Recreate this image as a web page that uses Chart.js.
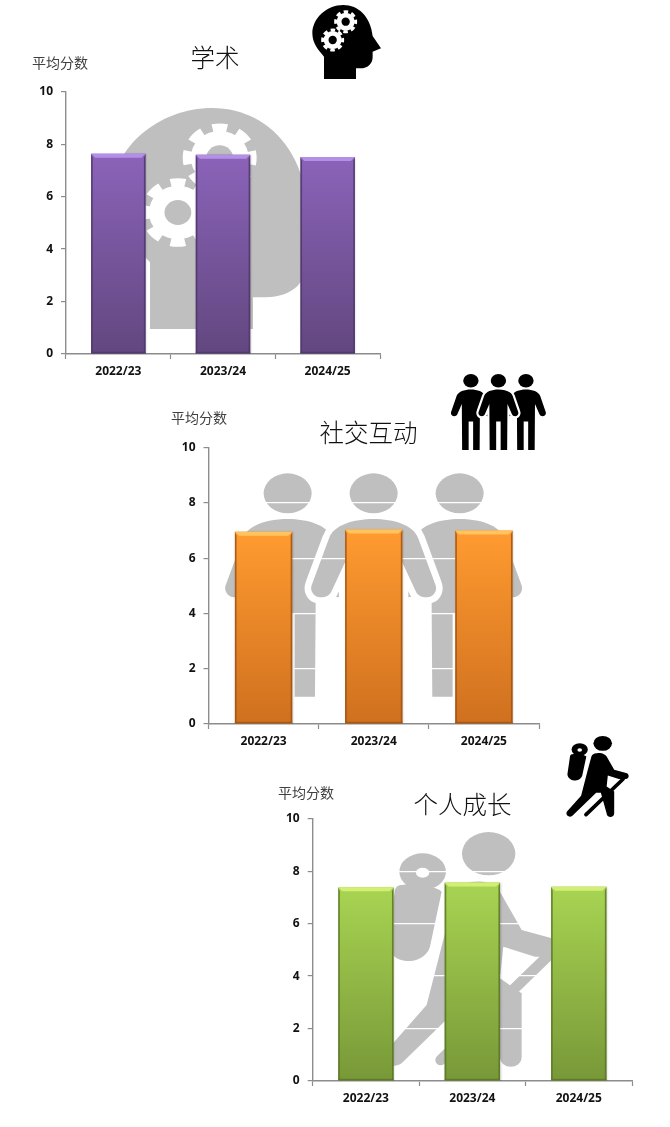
<!DOCTYPE html>
<html lang="zh">
<head>
<meta charset="utf-8">
<script src="https://cdn.jsdelivr.net/npm/chart.js@4"></script>
<style>
html,body{margin:0;padding:0;background:#fff;width:670px;height:1127px;overflow:hidden}
#art{position:absolute;left:0;top:0;z-index:0}
canvas{position:absolute;z-index:1}
</style>
</head>
<body>
<svg id="art" width="670" height="1127" viewBox="0 0 670 1127" xmlns="http://www.w3.org/2000/svg">
<defs>
<symbol id="head" viewBox="936 14 208 223" preserveAspectRatio="none">
  <path fill="currentColor" d="M972 237L1068 237L1068 205L1080 205C1105 205 1118 190 1118 170L1118 155L1143 145L1118 108C1112 50 1075 15 1030 15C980 15 937 55 937 100C937 130 955 150 972 170Z"/>
  <g>
    <circle cx="1037" cy="65" r="27" fill="#fff"/>
    <circle cx="1037" cy="65" r="30" fill="none" stroke="#fff" stroke-width="9" pathLength="16" stroke-dasharray="1.15 .85" stroke-dashoffset="0.57"/>
    <circle cx="1037" cy="65" r="12.5" fill="currentColor"/>
  </g>
  <g>
    <circle cx="998" cy="120" r="27" fill="#fff"/>
    <circle cx="998" cy="120" r="30" fill="none" stroke="#fff" stroke-width="9" pathLength="16" stroke-dasharray="1.15 .85" stroke-dashoffset="0.57"/>
    <circle cx="998" cy="120" r="12.5" fill="currentColor"/>
  </g>
</symbol>
<g id="man">
  <ellipse cx="0" cy="385" rx="72" ry="60"/>
  <path d="M-82 995L-21 995L-21 745L21 745L21 995L82 995L85 590L127 680C135 700 175 705 185 680C190 670 186 660 184 655L134 520C120 480 60 462 0 462C-60 462 -120 480 -134 520L-184 655C-186 660 -190 670 -185 680C-175 705 -135 700 -127 680L-85 590Z"/>
</g>
<symbol id="group" viewBox="190 320 900 680" preserveAspectRatio="none">
  <g fill="currentColor">
    <use href="#man" transform="translate(383 0)"/>
    <use href="#man" transform="translate(899 0)"/>
  </g>
  <g transform="translate(641 0)">
    <path fill="currentColor" stroke="#fff" stroke-width="40" stroke-linejoin="round" paint-order="stroke" d="M-82 995L-21 995L-21 745L21 745L21 995L82 995L85 590L127 680C135 700 175 705 185 680C190 670 186 660 184 655L134 520C120 480 60 462 0 462C-60 462 -120 480 -134 520L-184 655C-186 660 -190 670 -185 680C-175 705 -135 700 -127 680L-85 590Z"/>
    <ellipse cx="0" cy="385" rx="72" ry="60" fill="currentColor"/>
  </g>
</symbol>
<symbol id="hiker" viewBox="340 300 545 720" preserveAspectRatio="none">
  <ellipse cx="656" cy="371" rx="80" ry="65" fill="currentColor"/>
  <ellipse cx="458" cy="425" rx="70" ry="55" fill="currentColor"/>
  <ellipse cx="458" cy="428" rx="20" ry="15" fill="#fff"/>
  <path fill="currentColor" d="M395 465C440 460 500 470 515 485L480 650C470 685 430 695 410 693C380 693 355 670 352 640L375 480C378 470 385 465 395 465Z"/>
  <path fill="currentColor" d="M620 455C650 450 680 470 690 485L755 600L865 630C885 640 885 670 860 680L795 680L700 650L690 745L755 790L755 980C755 1020 690 1020 690 980L640 800L600 800L395 1000C375 1015 345 1005 345 985C340 970 350 960 360 950L470 825L525 610L560 480C570 460 600 455 620 455Z"/>
  <path fill="none" stroke="currentColor" stroke-width="32" stroke-linecap="round" d="M832 680L512 990"/>
</symbol>
</defs>
<use href="#head" x="111.4" y="107" width="223" height="222" style="color:#bfbfbf"/>
<use href="#head" x="312" y="4.7" width="69.3" height="74.3" style="color:#000"/>
<use href="#group" x="223.3" y="471.7" width="300" height="226.7" style="color:#bfbfbf"/>
<use href="#group" x="450.3" y="373.4" width="96" height="77.1" style="color:#000"/>
<use href="#hiker" x="383.3" y="830" width="181.7" height="240" style="color:#bfbfbf"/>
<use href="#hiker" x="566" y="735.2" width="63.3" height="82.9" style="color:#000"/>
</svg>

<canvas id="c1"></canvas>
<canvas id="c2"></canvas>
<canvas id="c3"></canvas>

<script>
const categories = ['2022/23', '2023/24', '2024/25'];
const academicScores = [7.63, 7.60, 7.51];
const socialScores = [6.95, 7.03, 7.00];
const growthScores = [7.39, 7.57, 7.41];
const yAxisLabel = '平均分数';
const titles = ['学术', '社交互动', '个人成长'];

const purple = {top:'#8b63b9', bottom:'#62477f', light:'#b48fe6', edge:'#4e3768'};
const orange = {top:'#ff9b30', bottom:'#cf701f', light:'#ffc45e', edge:'#9c5414'};
const green  = {top:'#a8d452', bottom:'#789838', light:'#d2ef74', edge:'#5a7428'};

const bevel = {
  id: 'bevel',
  beforeDatasetsDraw(chart) {
    const c = chart.ctx;
    c.save();
    c.shadowColor = 'rgba(0,0,0,0.2)';
    c.shadowBlur = 2;
    c.shadowOffsetX = 0.5;
    c.shadowOffsetY = 0.5;
  },
  afterDatasetsDraw(chart, args, opts) {
    const c = chart.ctx;
    c.restore();
    const pal = opts.palette;
    chart.getDatasetMeta(0).data.forEach(bar => {
      const l = bar.x - bar.width / 2, r = bar.x + bar.width / 2;
      const t = bar.y, b = bar.base, s = 4, e = 1.6;
      c.fillStyle = pal.light;
      c.beginPath(); c.moveTo(l, t); c.lineTo(r, t); c.lineTo(r - s, t + s); c.lineTo(l + s, t + s); c.closePath(); c.fill();
      c.fillStyle = pal.edge;
      c.globalAlpha = 0.85;
      c.beginPath(); c.moveTo(l, t); c.lineTo(l + e, t + s); c.lineTo(l + e, b - e); c.lineTo(l, b); c.closePath(); c.fill();
      c.beginPath(); c.moveTo(r, t); c.lineTo(r - e, t + s); c.lineTo(r - e, b - e); c.lineTo(r, b); c.closePath(); c.fill();
      c.fillRect(l, b - e, r - l, e);
      c.globalAlpha = 1;
    });
  }
};

// the title is centred on the whole canvas rather than on the padded width
const centreTitle = {
  id: 'centreTitle',
  afterLayout(chart) {
    const t = chart.titleBlock;
    t.left = 0; t.right = chart.width; t.width = chart.width;
  }
};

function makeChart(id, title, values, pal, box, gridColor) {
  const el = document.getElementById(id);
  const w = box.right - box.left, h = Math.round(box.plotBottom + 30 - box.top);
  el.width = w; el.height = h;
  el.style.left = box.left + 'px'; el.style.top = box.top + 'px';
  el.style.width = w + 'px'; el.style.height = h + 'px';
  const titleLine = box.titleSize * 1.2, subLine = 14 * 1.2;
  const padTop = box.titleY - box.top - titleLine / 2;
  const overlap = box.top + padTop + titleLine + subLine / 2 - box.subY;
  const subBottom = box.plotTop - (box.subY + subLine / 2);
  return new Chart(el, {
    type: 'bar',
    data: {
      labels: categories,
      datasets: [{
        data: values,
        barPercentage: 0.52,
        categoryPercentage: 1,
        backgroundColor(ctx) {
          const chart = ctx.chart;
          if (!chart.chartArea || ctx.parsed === undefined) return pal.top;
          const g = chart.ctx.createLinearGradient(0, chart.scales.y.getPixelForValue(ctx.parsed.y), 0, chart.chartArea.bottom);
          g.addColorStop(0, pal.top);
          g.addColorStop(1, pal.bottom);
          return g;
        }
      }]
    },
    options: {
      responsive: false,
      devicePixelRatio: 1,
      animation: false,
      layout: {padding: {left: 0, right: box.right - box.plotRight, top: 0, bottom: 0}},
      plugins: {
        legend: {display: false},
        tooltip: {enabled: false},
        title: {
          display: true, text: title, color: '#111',
          font: {family: "'Noto Sans CJK SC'", size: box.titleSize, weight: '300'},
          padding: {top: padTop, bottom: -overlap}
        },
        subtitle: {
          display: true, text: yAxisLabel, align: 'start', color: '#404040',
          font: {family: "'Noto Sans CJK SC'", size: 14, weight: '400'},
          padding: {top: 0, bottom: subBottom}
        },
        bevel: {palette: pal}
      },
      scales: {
        x: {
          afterFit(s) { s.height = 30; },
          border: {color: '#8c8c8c', width: 1.4},
          grid: {drawOnChartArea: false, tickLength: 5, tickColor: '#8c8c8c', tickWidth: 1.2},
          ticks: {color: '#111', padding: 5, maxRotation: 0, font: {family: "'Open Sans'", size: 12, weight: 'bold'}}
        },
        y: {
          min: 0, max: 10,
          afterFit(s) { s.width = box.plotLeft - box.left; },
          border: {color: '#8c8c8c', width: 1.4},
          grid: {
            color: c => (c.tick && c.tick.value === 10) ? 'rgba(255,255,255,0)' : gridColor,
            lineWidth: 1.2, tickLength: 5, tickColor: '#8c8c8c', tickWidth: 1.2
          },
          ticks: {stepSize: 2, color: '#111', padding: 8, font: {family: "'Open Sans'", size: 12, weight: 'bold'}}
        }
      }
    },
    plugins: [bevel, centreTitle]
  });
}

const boxes = [
  {left:32,  right:398, top:20,  plotLeft:66,    plotRight:380, plotTop:91.7,  plotBottom:354,  titleY:58,  subY:63,  titleSize:24.5},
  {left:171, right:566, top:398, plotLeft:208.5, plotRight:539, plotTop:447.5, plotBottom:724,  titleY:433, subY:418, titleSize:24.5},
  {left:278, right:647, top:775, plotLeft:312.7, plotRight:632, plotTop:818.7, plotBottom:1081, titleY:805, subY:793, titleSize:24.5}
];

makeChart('c1', titles[0], academicScores, purple, boxes[0], 'rgba(255,255,255,0)');
makeChart('c2', titles[1], socialScores, orange, boxes[1], '#ffffff');
makeChart('c3', titles[2], growthScores, green, boxes[2], '#ffffff');
</script>
</body>
</html>
